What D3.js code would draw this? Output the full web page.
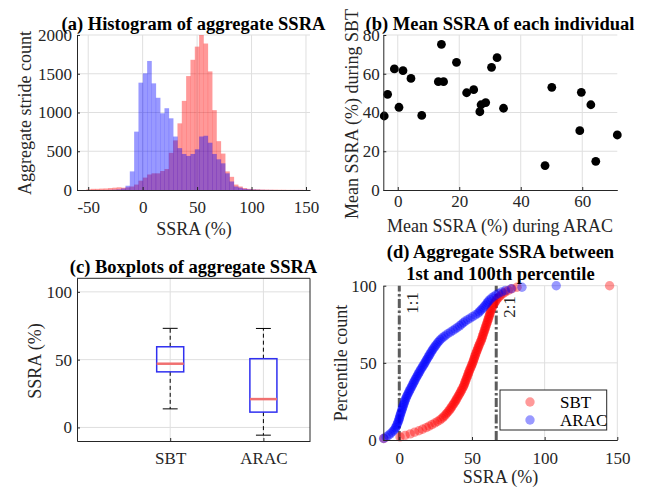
<!DOCTYPE html>
<html>
<head>
<meta charset="utf-8">
<script src="https://cdnjs.cloudflare.com/ajax/libs/d3/7.8.5/d3.min.js"></script>
<style>
body { margin: 0; background: #fff; }
svg { font-family: "Liberation Serif", "Times New Roman", serif; }
.ax text { font-family: "Liberation Serif", serif; font-size: 17px; fill: #262626; }
.ax path, .ax line { stroke: #262626; }
.grid { stroke: #dfdfdf; stroke-width: 1; }
.ttl { font-size: 18.5px; font-weight: bold; fill: #000; text-anchor: middle; }
.lab { font-size: 18px; fill: #262626; text-anchor: middle; }
</style>
</head>
<body>
<div id="fig"></div>
<script>
// (a) histogram, counts per bin
var binStart = -51.6, binWidth = 3.98
var sbtHist = [8, 15, 15, 18, 20, 25, 30, 35, 30, 35, 45, 70, 120, 160, 200, 215, 215, 245, 270, 480,
    640, 860, 1150, 1470, 1680, 1850, 2000, 1890, 1530, 1030, 630, 470, 240, 170, 70, 45, 25, 15, 10, 8,
    6, 5, 4, 4, 3, 3, 2, 2, 2, 2, 0]
var aracHist = [0, 0, 0, 0, 0, 2, 4, 8, 20, 55, 240, 753, 1385, 1505, 1665, 1376, 1190, 990, 1055, 925,
    690, 540, 465, 440, 465, 525, 690, 700, 610, 465, 396, 344, 215, 110, 45, 30, 15, 10, 6, 4,
    2, 1, 1, 0, 0, 0, 0, 0, 0, 0, 0]

// (b) mean of each individual
var meanArac = [-4.4, -3.3, -1.1, 1.7, 4.3, 0.4, 7.8, 14.2, 13.2, 14.9, 19.1, 22.4, 24.7, 30.5, 32.3, 26.7,
    27.1, 28.6, 34.4, 47.9, 50.1, 59.7, 59.2, 62.8, 64.4, 71.4]
var meanSbt = [38.2, 49.4, 62.5, 61.6, 57.6, 42.7, 38.5, 75.2, 55.9, 55.9, 65.9, 50.2, 51.8, 63.3, 68.3, 40.4,
    44.0, 45.1, 42.2, 12.6, 53.0, 50.4, 30.6, 44.0, 14.8, 28.4]

// (c) boxplots
var boxNames = ["SBT", "ARAC"]
var whiskLo = [13.7, -5.7]
var boxQ1 = [41.0, 11.3]
var boxMed = [47.0, 20.9]
var boxQ3 = [59.5, 50.7]
var whiskHi = [73.1, 73.0]

// (d) 1st..100th percentile
var pctRank = d3.range(1, 101)
var sbtPct = [-10.6, 0.5, 4.0, 7.5, 10.5, 13.5, 16.0, 18.5, 20.5, 22.5,
    24.5, 26.3, 28.0, 29.3, 30.4, 31.5, 32.4, 33.3, 34.2, 35.0,
    35.7, 36.4, 37.1, 37.8, 38.5, 39.1, 39.7, 40.3, 40.9, 41.5,
    42.1, 42.7, 43.2, 43.8, 44.3, 44.7, 45.1, 45.5, 45.9, 46.3,
    46.7, 47.1, 47.5, 47.9, 48.3, 48.7, 49.2, 49.6, 50.1, 50.5,
    50.9, 51.2, 51.6, 51.9, 52.3, 52.7, 53.1, 53.5, 53.9, 54.3,
    54.7, 55.2, 55.6, 56.1, 56.5, 56.9, 57.2, 57.6, 57.9, 58.3,
    58.6, 59.0, 59.3, 59.7, 60.0, 60.4, 60.7, 61.1, 61.4, 61.8,
    62.1, 62.4, 62.7, 63.0, 63.5, 64.0, 64.5, 65.0, 65.7, 66.3,
    67.0, 68.0, 69.0, 70.0, 71.5, 73.0, 75.0, 77.5, 81.0, 144.7]
var aracPct = [-10.8, -9.0, -7.5, -6.2, -5.0, -4.0, -3.2, -2.5, -2.0, -1.5,
    -1.1, -0.7, -0.3, 0.0, 0.3, 0.6, 0.9, 1.3, 1.6, 2.0,
    2.3, 2.7, 3.0, 3.4, 3.7, 4.1, 4.6, 5.0, 5.5, 6.0,
    6.5, 7.1, 7.6, 8.2, 8.7, 9.2, 9.8, 10.3, 10.9, 11.4,
    12.0, 12.6, 13.2, 13.8, 14.4, 15.0, 15.7, 16.3, 17.0, 17.6,
    18.2, 18.8, 19.4, 20.1, 20.7, 21.3, 22.0, 22.6, 23.3, 24.0,
    24.8, 25.6, 26.4, 27.3, 28.2, 29.4, 30.7, 32.0, 33.6, 35.3,
    37.0, 38.5, 40.0, 41.5, 42.8, 44.1, 45.4, 47.1, 48.8, 50.5,
    52.3, 54.0, 55.0, 56.0, 57.0, 58.0, 58.9, 59.8, 60.6, 61.4,
    62.4, 63.5, 65.0, 66.5, 68.3, 70.5, 73.0, 77.0, 84.4, 108.0]
var ratioLines = [0, 66.7]
var ratioText = ["1:1", "2:1"]

var svg = d3.select("#fig").append("svg").attr("width", 660).attr("height", 493)

function grid(g, x, y, xt, yt) {
    g.selectAll("gx").data(xt).enter().append("line")
        .attr("class", "grid")
        .attr("x1", function(d) { return x(d) }).attr("x2", function(d) { return x(d) })
        .attr("y1", y.range()[0]).attr("y2", y.range()[1])
    g.selectAll("gy").data(yt).enter().append("line")
        .attr("class", "grid")
        .attr("y1", function(d) { return y(d) }).attr("y2", function(d) { return y(d) })
        .attr("x1", x.range()[0]).attr("x2", x.range()[1])
}

function axes(g, x, y, o) {
    g.append("g").attr("class", "ax")
        .attr("transform", "translate(0," + y.range()[0] + ")")
        .call(d3.axisBottom(x).tickValues(o.xt).tickFormat(o.xf || String)
            .tickSize(-3).tickSizeOuter(0).tickPadding(o.xp))
    g.append("g").attr("class", "ax")
        .attr("transform", "translate(" + x.range()[0] + ",0)")
        .call(d3.axisLeft(y).tickValues(o.yt).tickFormat(String)
            .tickSize(-3).tickSizeOuter(0).tickPadding(o.yp))
}

function ylab(txt, cx, cy) {
    svg.append("text").attr("class", "lab")
        .attr("transform", "translate(" + cx + "," + cy + ") rotate(-90)")
        .attr("dy", "0.35em").text(txt)
}
function txt(cls, t, x, y) {
    svg.append("text").attr("class", cls).attr("x", x).attr("y", y).text(t)
}

// ---------- (a) histogram
var xa = d3.scaleLinear().domain([-60.3, 153.7]).range([77, 310])
var ya = d3.scaleLinear().domain([0, 2000]).range([190, 35])
var ga = svg.append("g")
grid(ga, xa, ya, [-50, 0, 50, 100, 150], [500, 1000, 1500, 2000])
;[[sbtHist, "#ff0000"], [aracHist, "#0000ff"]].forEach(function(s) {
    ga.selectAll("bins").data(s[0]).enter().append("rect")
        .attr("x", function(d, i) { return xa(binStart + i * binWidth) })
        .attr("width", xa(binWidth) - xa(0) + 0.3)
        .attr("y", function(d) { return ya(d) })
        .attr("height", function(d) { return ya(0) - ya(d) })
        .attr("fill", s[1]).attr("opacity", 0.4)
})
axes(ga, xa, ya, { xt: [-50, 0, 50, 100, 150], yt: [0, 500, 1000, 1500, 2000], xp: 11, yp: 5 })
txt("ttl", "(a) Histogram of aggregate SSRA", 193.5, 30)
txt("lab", "SSRA (%)", 194, 235)
ylab("Aggregate stride count", 25, 113)

// ---------- (b) scatter
var xb = d3.scaleLinear().domain([-4.7, 71.4]).range([383.3, 617.3])
var yb = d3.scaleLinear().domain([0, 80]).range([190, 35])
var gb = svg.append("g")
grid(gb, xb, yb, [0, 20, 40, 60], [20, 40, 60, 80])
gb.selectAll("pts").data(meanArac).enter().append("circle")
    .attr("cx", function(d) { return xb(d) })
    .attr("cy", function(d, i) { return yb(meanSbt[i]) })
    .attr("r", 4.4).attr("fill", "#000")
axes(gb, xb, yb, { xt: [0, 20, 40, 60], yt: [0, 20, 40, 60, 80], xp: 5, yp: 3.5 })
txt("ttl", "(b) Mean SSRA of each individual", 500, 30)
txt("lab", "Mean SSRA (%) during ARAC", 500, 232)
ylab("Mean SSRA (%) during SBT", 352, 114)

// ---------- (c) boxplots
var xc = d3.scaleLinear().domain([0, 2.5]).range([77, 310])
var yc = d3.scaleLinear().domain([-10, 110]).range([441, 278.3])
var gc = svg.append("g")
grid(gc, xc, yc, [1, 2], [0, 50, 100])
var bw = 0.145, cw = 0.08
boxNames.forEach(function(n, i) {
    var p = i + 1
    gc.append("line").attr("x1", xc(p)).attr("x2", xc(p))
        .attr("y1", yc(boxQ3[i])).attr("y2", yc(whiskHi[i]))
        .attr("stroke", "#000").attr("stroke-dasharray", "4,3")
    gc.append("line").attr("x1", xc(p)).attr("x2", xc(p))
        .attr("y1", yc(boxQ1[i])).attr("y2", yc(whiskLo[i]))
        .attr("stroke", "#000").attr("stroke-dasharray", "4,3")
    ;[whiskHi[i], whiskLo[i]].forEach(function(v) {
        gc.append("line").attr("x1", xc(p - cw)).attr("x2", xc(p + cw))
            .attr("y1", yc(v)).attr("y2", yc(v)).attr("stroke", "#000")
    })
    gc.append("rect").attr("x", xc(p - bw)).attr("width", xc(p + bw) - xc(p - bw))
        .attr("y", yc(boxQ3[i])).attr("height", yc(boxQ1[i]) - yc(boxQ3[i]))
        .attr("fill", "none").attr("stroke", "#3030f0").attr("stroke-width", 1.5)
    gc.append("line").attr("x1", xc(p - bw)).attr("x2", xc(p + bw))
        .attr("y1", yc(boxMed[i])).attr("y2", yc(boxMed[i]))
        .attr("stroke", "#f07070").attr("stroke-width", 2.5)
})
axes(gc, xc, yc, { xt: [1, 2], xf: function(d) { return boxNames[d - 1] }, yt: [0, 50, 100], xp: 11, yp: 5 })
gc.append("path").attr("d", "M77,278.3H310V441").attr("fill", "none").attr("stroke", "#262626")
txt("ttl", "(c) Boxplots of aggregate SSRA", 193.5, 273)
ylab("SSRA (%)", 35, 361)

// ---------- (d) percentiles
var xd = d3.scaleLinear().domain([-11, 150]).range([383.3, 617.3])
var yd = d3.scaleLinear().domain([0, 100]).range([440, 285.7])
var gd = svg.append("g")
grid(gd, xd, yd, [0, 50, 100, 150], [50, 100])
gd.selectAll("rl").data(ratioLines).enter().append("line")
    .attr("x1", function(d) { return xd(d) }).attr("x2", function(d) { return xd(d) })
    .attr("y1", yd(0)).attr("y2", yd(100))
    .attr("stroke", "#5c5c5c").attr("stroke-width", 3)
    .attr("stroke-dasharray", "9,2.5,2.5,2.5")
gd.selectAll("rt").data(ratioText).enter().append("text")
    .attr("transform", function(d, i) { return "translate(" + (xd(ratioLines[i]) + 13) + "," + (i ? 307 : 303) + ") rotate(-90)" })
    .attr("dy", "0.35em").attr("text-anchor", "middle")
    .style("font-size", "17px").attr("fill", "#262626")
    .text(function(d) { return d })
;[[sbtPct, "#ff0000"], [aracPct, "#0000ff"]].forEach(function(s) {
    gd.selectAll("pp").data(s[0]).enter().append("circle")
        .attr("cx", function(d) { return xd(d) })
        .attr("cy", function(d, i) { return yd(pctRank[i]) })
        .attr("r", 4.7).attr("fill", s[1]).attr("opacity", 0.4)
})
axes(gd, xd, yd, { xt: [0, 50, 100, 150], yt: [0, 50, 100], xp: 12, yp: 6.5 })
// legend
var lg = gd.append("g")
lg.append("rect").attr("x", 500).attr("y", 390).attr("width", 106.7).attr("height", 40)
    .attr("fill", "#fff").attr("stroke", "#262626")
;[["SBT", "#ff0000"], ["ARAC", "#0000ff"]].forEach(function(e, i) {
    lg.append("circle").attr("cx", 530).attr("cy", 402 + i * 18).attr("r", 4.7)
        .attr("fill", e[1]).attr("opacity", 0.4)
    lg.append("text").attr("x", 560).attr("y", 407.5 + i * 18)
        .style("font-size", "17px").attr("fill", "#000").text(e[0])
})
txt("ttl", "(d) Aggregate SSRA between", 500.5, 258)
txt("ttl", "1st and 100th percentile", 500.5, 280)
txt("lab", "SSRA (%)", 500.5, 483)
ylab("Percentile count", 341, 363)
</script>
</body>
</html>
